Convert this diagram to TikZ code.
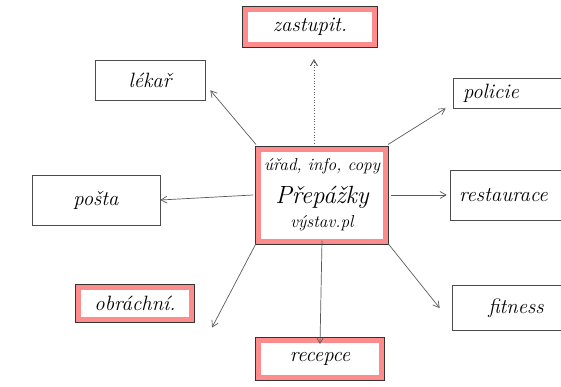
\documentclass[tikz,border=0pt]{standalone}
\usetikzlibrary{arrows.meta}
\begin{document}
\begin{tikzpicture}[x=1pt,y=-1pt,
  plainbox/.style={draw=black!70, line width=0.7pt, fill=white, inner sep=2pt, font=\huge\itshape},
  redbox/.style={draw=red!45, line width=5pt, fill=white, inner sep=2pt, font=\huge\itshape,
    preaction={draw=black!80, line width=7pt}},
  conn/.style={draw=black!65, line width=0.7pt, -{Straight Barb[length=6pt,width=7pt]}}]
\useasboundingbox (0,0) rectangle (561,386);
\node[redbox, minimum width=129pt, minimum height=35pt] (zas) at (310,27) {zastupit.};
\node[redbox, minimum width=127pt, minimum height=92pt, align=center, inner sep=0pt] (c) at (322,195)
  {\LARGE úřad, info, copy\\[8pt] \Huge Přepážky\\[-1pt] \LARGE výstav.pl};
\node[plainbox, minimum width=110pt, minimum height=40pt] (lek) at (150,80) {lékař};
\node[plainbox, minimum width=120pt, minimum height=30pt, text width=100pt] (pol) at (513,93) {policie};
\node[plainbox, minimum width=128pt, minimum height=50pt] (pos) at (96,200) {pošta};
\node[plainbox, minimum width=130pt, minimum height=50pt, text width=112pt] (res) at (515,195) {restaurace};
\node[redbox, minimum width=113pt, minimum height=32pt] (obr) at (135,303) {obráchní.};
\node[plainbox, minimum width=128pt, minimum height=45pt] (fit) at (516,308) {fitness};
\node[redbox, minimum width=123pt, minimum height=37pt] (rec) at (320,359) {recepce};
\draw[conn, dotted, line width=1pt] (c.north -| zas.south) ++(4,-3) -- ([xshift=4pt,yshift=-12pt]zas.south);
\draw[conn] ([yshift=2pt]c.north west) -- ([shift={(5pt,10pt)}]lek.south east);
\draw[conn] ([yshift=2pt]c.north east) -- ([xshift=-7pt]pol.south west);
\draw[conn] ([xshift=-3pt]c.west) -- (pos.east);
\draw[conn] ([xshift=3pt]c.east) -- ([xshift=-3pt]res.west);
\draw[conn] (c.south west) -- ([shift={(18pt,-6pt)}]obr.south east);
\draw[conn] (c.south east) -- ([xshift=-12pt]fit.west);
\draw[conn] ([yshift=3pt]c.south) -- ([yshift=-6pt]rec.north);
\end{tikzpicture}
\end{document}
